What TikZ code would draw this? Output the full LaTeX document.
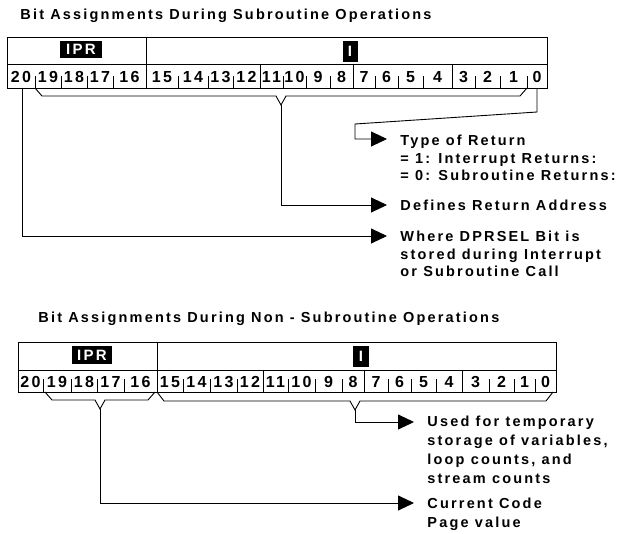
\documentclass[tikz,border=0pt]{standalone}
\usepackage{fontspec}
\setmainfont{Liberation Sans}[LetterSpace=15]
\usetikzlibrary{arrows.meta}

\tikzset{
  ttl/.style={anchor=base west, inner sep=0pt, font=\fontsize{14.5}{17}\selectfont\bfseries},
  lbl/.style={anchor=north west, inner sep=0pt, align=left, font=\fontsize{14.5}{#1}\selectfont\bfseries},
  lbl/.default=17.5,
  bitnum/.style={anchor=base, inner sep=0pt, font=\fontsize{16}{16}\selectfont\bfseries},
  tag/.style={fill=black, text=white, inner sep=0pt, font=\fontsize{15}{15}\selectfont\bfseries},
  conn/.style={-{Triangle[length=16pt,width=15pt]}, shorten >=13pt}
}

\begin{document}
\begin{tikzpicture}[x=1pt, y=-1pt, line width=0.9pt]
  \def\bitbrace#1#2#3#4#5{%
    \pgfmathsetmacro\xm{(#1+#2)/2}
    \draw (#1,#3) -- (#1+7,#4) -- (\xm-5,#4) -- (\xm,#4+9) -- (\xm+5,#4) -- (#2-7,#4) -- (#2,#3);
    \coordinate (#5) at (\xm,#4+9);}
  \useasboundingbox (0,0) rectangle (618,533);

  % subroutine register
  \node[ttl] (ttlA) at (20,19) {Bit Assignments During Subroutine Operations};
  \draw (7,37) rectangle (547,88);
  \draw (7,64) -- (547,64);
  \draw (146,37) -- (146,88);
  \foreach \x in {260,353,452} \draw (\x,64) -- (\x,88);
  \foreach \x in {35,61,87,113,178,208,233,283,306,330,375,398,423,475,500,527}
    \draw (\x,76) -- (\x,88);
  \node[tag, minimum width=42pt, minimum height=17pt] (iprA) at (81,49) {IPR};
  \node[tag, minimum width=15pt, minimum height=21pt] (regA) at (350,51) {I};
  \foreach \xa/\xb/\n in {7/35/20,35/61/19,61/87/18,87/113/17,113/146/16,
      146/178/15,178/208/14,208/233/13,233/260/12,260/283/11,283/306/10,
      306/330/9,330/353/8,353/375/7,375/398/6,398/423/5,423/452/4,
      452/475/3,475/500/2,500/527/1,527/547/0}
    \node[bitnum] (a\n) at ({(\xa+\xb)/2},82) {\n};
  \bitbrace{35}{527}{88}{96}{addrA}
  \coordinate (bitA0) at (537,88);
  \coordinate (bitA20) at (22,88);

  \node[lbl] (ret) at (400,135) {Type of Return\\= 1: Interrupt Returns:\\= 0: Subroutine Returns:};
  \node[lbl] (addr) at (400,200) {Defines Return Address};
  \node[lbl] (dprsel) at (400,231) {Where DPRSEL Bit is\\stored during Interrupt\\or Subroutine Call};
  \draw[conn] (bitA0) -- (537,112) -- (355,124) |- ([yshift=-4pt]ret.north west);
  \draw[conn] (addrA) |- ([yshift=-5pt]addr.north west);
  \draw[conn] (bitA20) |- ([yshift=-5pt]dprsel.north west);

  % non-subroutine register
  \node[ttl] (ttlB) at (38,322) {Bit Assignments During Non - Subroutine Operations};
  \draw (18,342) rectangle (556,392);
  \draw (18,370) -- (556,370);
  \draw (157,342) -- (157,392);
  \foreach \x in {263,364,462} \draw (\x,370) -- (\x,392);
  \foreach \x in {43,71,97,124,183,210,237,288,315,342,388,411,436,489,514,535}
    \draw (\x,379) -- (\x,392);
  \node[tag, minimum width=40pt, minimum height=18pt] (iprB) at (92,355) {IPR};
  \node[tag, minimum width=16pt, minimum height=21pt] (regB) at (361,356) {I};
  \foreach \xa/\xb/\n in {18/43/20,43/71/19,71/97/18,97/124/17,124/157/16,
      157/183/15,183/210/14,210/237/13,237/263/12,263/288/11,288/315/10,
      315/342/9,342/364/8,364/388/7,388/411/6,411/436/5,436/462/4,
      462/489/3,489/514/2,514/535/1,535/556/0}
    \node[bitnum] (b\n) at ({(\xa+\xb)/2},387) {\n};
  \bitbrace{45}{155}{392}{400}{pageB}
  \bitbrace{157}{553}{392}{401}{tempB}

  \node[lbl=19] (temp) at (427,416) {Used for temporary\\storage of variables,\\loop counts, and\\stream counts};
  \node[lbl=19] (page) at (427,498) {Current Code\\Page value};
  \draw[conn] (tempB) |- ([yshift=-6pt]temp.north west);
  \draw[conn] (pageB) |- ([yshift=-5pt]page.north west);
\end{tikzpicture}
\end{document}
